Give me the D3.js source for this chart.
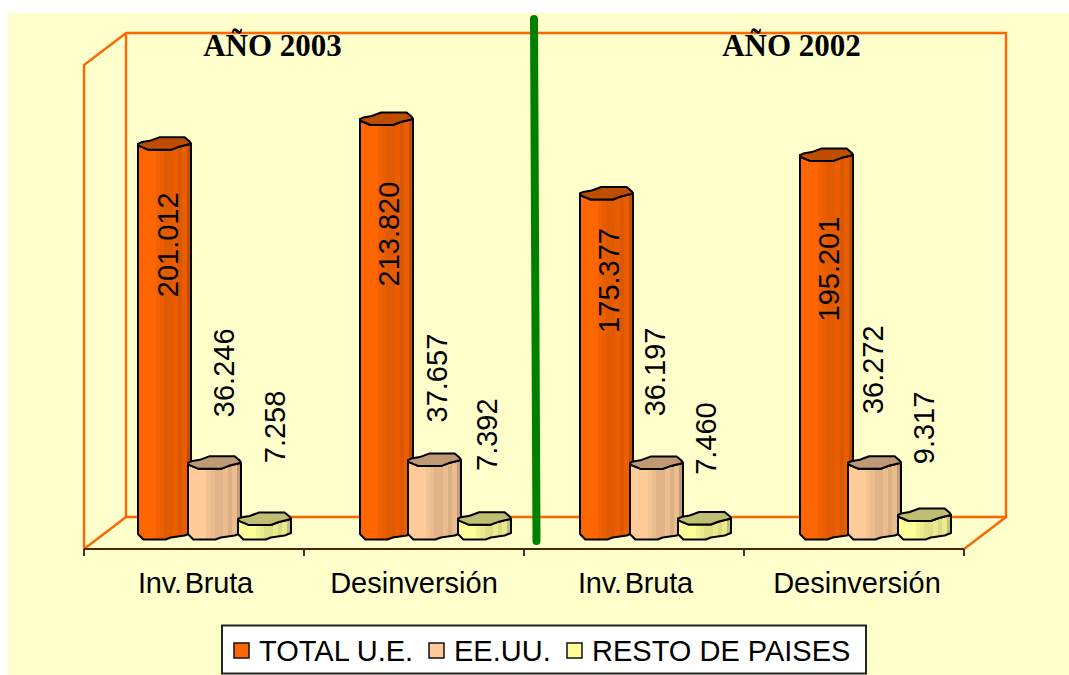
<!DOCTYPE html>
<html><head><meta charset="utf-8">
<script src="https://cdnjs.cloudflare.com/ajax/libs/d3/7.9.0/d3.min.js"></script>
<style>html,body{margin:0;padding:0;background:#fff}svg{display:block}</style>
</head><body><svg id="c" width="1069" height="675"></svg>
<script>
const categories = ["Inv. Bruta","Desinversión","Inv. Bruta ","Desinversión "];
const seriesNames = ["TOTAL U.E.","EE.UU.","RESTO DE PAISES"];
const totalUE = [201012,213820,175377,195201];
const eeuu = [36246,37657,36197,36272];
const resto = [7258,7392,7460,9317];
const valueLabels = [["201.012","213.820","175.377","195.201"],["36.246","37.657","36.197","36.272"],["7.258","7.392","7.460","9.317"]];
const yearTitles = ["AÑO 2003","AÑO 2002"];
const seriesColors = ["#FF6600","#FFCC99","#FFFF99"];
// layout: hand placement of the labels relative to their bars, and of the bars in their group
const labelOffsets = [[101,115,87,114],[-90,-82,-91,-93],[-92,-84,-80,-87]];
const labelNudgeX = [[3,4,4,4],[9,2,0,-2],[10,2,1,-1]];
const barNudgeX = [[0,2,2,2],[0,0,2,0],[0,0,0,0]];
const categoryNudgeX = [1.5,0,1.5,3];

const svg=d3.select("#c");
const values=[totalUE,eeuu,resto];
const y=d3.scaleLinear().domain([0,250000]).range([533,49]);
const x=d3.scaleBand().domain(categories).range([105,985]);
const inner=d3.scalePoint().domain(seriesNames).range([33,133]);
const barW=53, rise=16;

const defs=svg.append("defs");
const shades=[1,1,1,1,.95,.92,.88,.88,.92,.86,.92,.76];
seriesColors.forEach((c,i)=>{
  const g=defs.append("linearGradient").attr("id","g"+i);
  shades.forEach((s,k)=>{
    const col=d3.rgb(c); const v=`rgb(${col.r*s},${col.g*s},${col.b*s})`;
    g.append("stop").attr("offset",k/shades.length).attr("stop-color",v);
    g.append("stop").attr("offset",(k+1)/shades.length).attr("stop-color",v);
  });
});

svg.append("rect").attr("x",8).attr("y",13).attr("width",1061).attr("height",662).attr("fill","#FFFFCC");

// walls
const wall="#FF6600";
const xf0=84,xf1=964,xb0=126,xb1=1006;
const yFloorF=y(0)+rise, yFloorB=y(0)-rise, yTopB=y(250000)-rise, yTopF=y(250000)+rise;
const line=(pts,col=wall,w=2.4)=>svg.append("path").attr("d",d3.line()(pts)).attr("fill","none").attr("stroke",col).attr("stroke-width",w);
line([[xf0,yFloorF],[xf0,yTopF],[xb0,yTopB],[xb1,yTopB],[xb1,yFloorB],[xb0,yFloorB],[xb0,yTopB]]);
line([[xf0,yFloorF],[xb0,yFloorB]]);
line([[xf1,yFloorF],[xb1,yFloorB]]);
line([[xf0,yFloorF],[xf1,yFloorF]],"#4d2600",2);
d3.range(5).forEach(i=>{const tx=xf0+i*(xf1-xf0)/4; line([[tx,yFloorF],[tx,yFloorF+7]],"#222",1.8);});

// jagged cylinder outline, in (width fraction, px from cap centre)
const capBack=[[0,0],[.06,-1.5],[.22,-3],[.4,-6.5],[.88,-6.5],[.98,-2],[1,0]];
const capFront=[[1,0],[.77,3],[.62,6],[.2,6],[.02,2],[0,0]];
const foot=[[1,0],[.88,2.5],[.62,4.5],[.52,6.5],[.1,6.5],[0,1]];
const gBars=svg.append("g");
const l=d3.line();
seriesNames.forEach((s,si)=>{
  categories.forEach((cat,ci)=>{
    const x0=x(cat)+inner(s)+barNudgeX[si][ci], top=y(values[si][ci]), base=y(0);
    const P=(pts,yy)=>pts.map(p=>[x0+p[0]*barW,yy+p[1]]);
    const body=[...P(capFront.slice().reverse(),top),...P(foot,base)];
    const g=gBars.append("g");
    g.append("path").attr("d",l(body)+"Z").attr("fill",`url(#g${si})`).attr("stroke","#000").attr("stroke-width",2).attr("stroke-linejoin","round");
    const col=d3.rgb(seriesColors[si]);
    g.append("path").attr("d",l([...P(capBack,top),...P(capFront.slice(1),top)])+"Z")
      .attr("fill",`rgb(${col.r*.75},${col.g*.75},${col.b*.75})`).attr("stroke","#000").attr("stroke-width",2).attr("stroke-linejoin","round");
  });
});

// value labels
const font="'Liberation Sans',Arial,sans-serif";
seriesNames.forEach((s,si)=>categories.forEach((cat,ci)=>{
  const cx=x(cat)+inner(s)+27+labelNudgeX[si][ci], cy=y(values[si][ci])+labelOffsets[si][ci];
  svg.append("text").attr("transform",`translate(${cx},${cy}) rotate(-90)`)
    .attr("text-anchor","middle").attr("dy","0.36em").attr("font-family",font).attr("font-size",29).attr("fill","#000").text(valueLabels[si][ci]);
}));

// category labels
const xAxisPos=d3.scaleBand().domain(categories).range([xf0,xf1]);
categories.forEach((c,i)=>{
  const t=c.trim(), spaced=t.includes(" ");
  svg.append("text").attr("x",xAxisPos(c)+xAxisPos.bandwidth()/2+categoryNudgeX[i]).attr("y",593).attr("text-anchor","middle")
    .attr("font-family",font).attr("font-size",29)
    .attr("word-spacing",spaced?-5:0).attr("letter-spacing",spaced?-0.2:0).attr("fill","#000").text(t);
});

// divider
line([[534,19],[536.5,541]],"#008000",8).attr("stroke-linecap","round");

// year titles
yearTitles.forEach((t,i)=>svg.append("text").attr("x",[272.5,791.5][i]).attr("y",56).attr("text-anchor","middle")
  .attr("font-family","'Liberation Serif','Times New Roman',serif").attr("font-weight","bold").attr("font-size",31).text(t));

// legend
const lg=svg.append("g");
lg.append("rect").attr("x",222).attr("y",625.5).attr("width",644).attr("height",48).attr("fill","#fff").attr("stroke","#222").attr("stroke-width",2);
const legendX=[234,429,567];
seriesNames.forEach((s,i)=>{
  lg.append("rect").attr("x",legendX[i]).attr("y",643).attr("width",15).attr("height",15).attr("fill",seriesColors[i]).attr("stroke","#111").attr("stroke-width",1.5);
  lg.append("text").attr("x",legendX[i]+25).attr("y",661).attr("font-family",font).attr("font-size",29).attr("fill","#000").text(s);
});
</script></body></html>
